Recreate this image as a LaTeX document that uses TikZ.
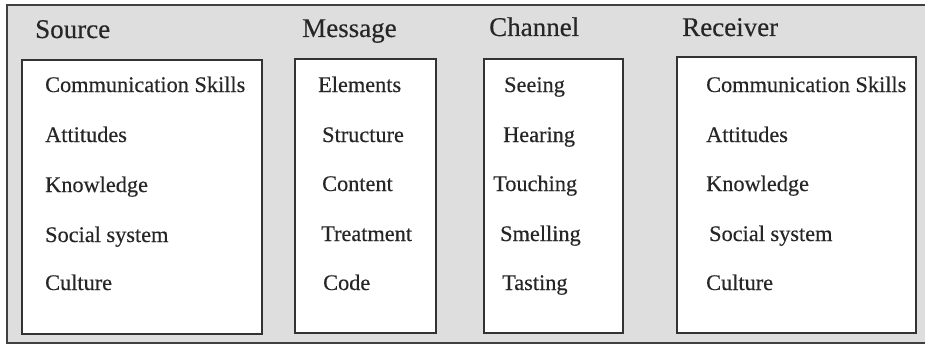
\documentclass[tikz,border=0pt]{standalone}
\usepackage{fontspec}
\setmainfont{Liberation Serif}
\newfontfamily\heavyserif[FakeBold=0.35]{Liberation Serif}
\begin{document}
\begin{tikzpicture}[x=1pt,y=-1pt,
  frame/.style={draw=black!75, line width=1.6pt, fill=black!13},
  panel/.style={draw=black!80, line width=1.6pt, fill=white},
  head/.style={anchor=base west, inner sep=0pt, text=black!85,
    font=\heavyserif\fontsize{27}{32}\selectfont},
  item/.style={anchor=base west, inner sep=0pt, text=black!85,
    font=\heavyserif\fontsize{22.3}{26}\selectfont}]
\useasboundingbox (0,0) rectangle (925,353);
% outer panel
\draw[frame] (7,5) rectangle (932,343);
% column boxes
\draw[panel] (22,60) rectangle (262,334);
\draw[panel] (295,59) rectangle (436,333);
\draw[panel] (484,59) rectangle (623,333);
\draw[panel] (677,57) rectangle (916,333);
% column headings
\node[head] (hsrc) at (35,38) {Source};
\node[head] (hmsg) at (302,37) {Message};
\node[head] (hchn) at (489,36) {Channel};
\node[head] (hrcv) at (682,36) {Receiver};
% source
\node[item] (s1) at (45,92) {Communication Skills};
\node[item] (s2) at (45,142) {Attitudes};
\node[item] (s3) at (45,192) {Knowledge};
\node[item] (s4) at (45,242) {Social system};
\node[item] (s5) at (45,290) {Culture};
% message
\node[item] (m1) at (318,92) {Elements};
\node[item] (m2) at (322,142) {Structure};
\node[item] (m3) at (322,191) {Content};
\node[item] (m4) at (321,241) {Treatment};
\node[item] (m5) at (323,290) {Code};
% channel
\node[item] (c1) at (504,92) {Seeing};
\node[item] (c2) at (503,142) {Hearing};
\node[item] (c3) at (493,191) {Touching};
\node[item] (c4) at (500,241) {Smelling};
\node[item] (c5) at (502,290) {Tasting};
% receiver
\node[item] (r1) at (706,92) {Communication Skills};
\node[item] (r2) at (706,142) {Attitudes};
\node[item] (r3) at (706,191) {Knowledge};
\node[item] (r4) at (709,241) {Social system};
\node[item] (r5) at (706,290) {Culture};
\end{tikzpicture}
\end{document}
